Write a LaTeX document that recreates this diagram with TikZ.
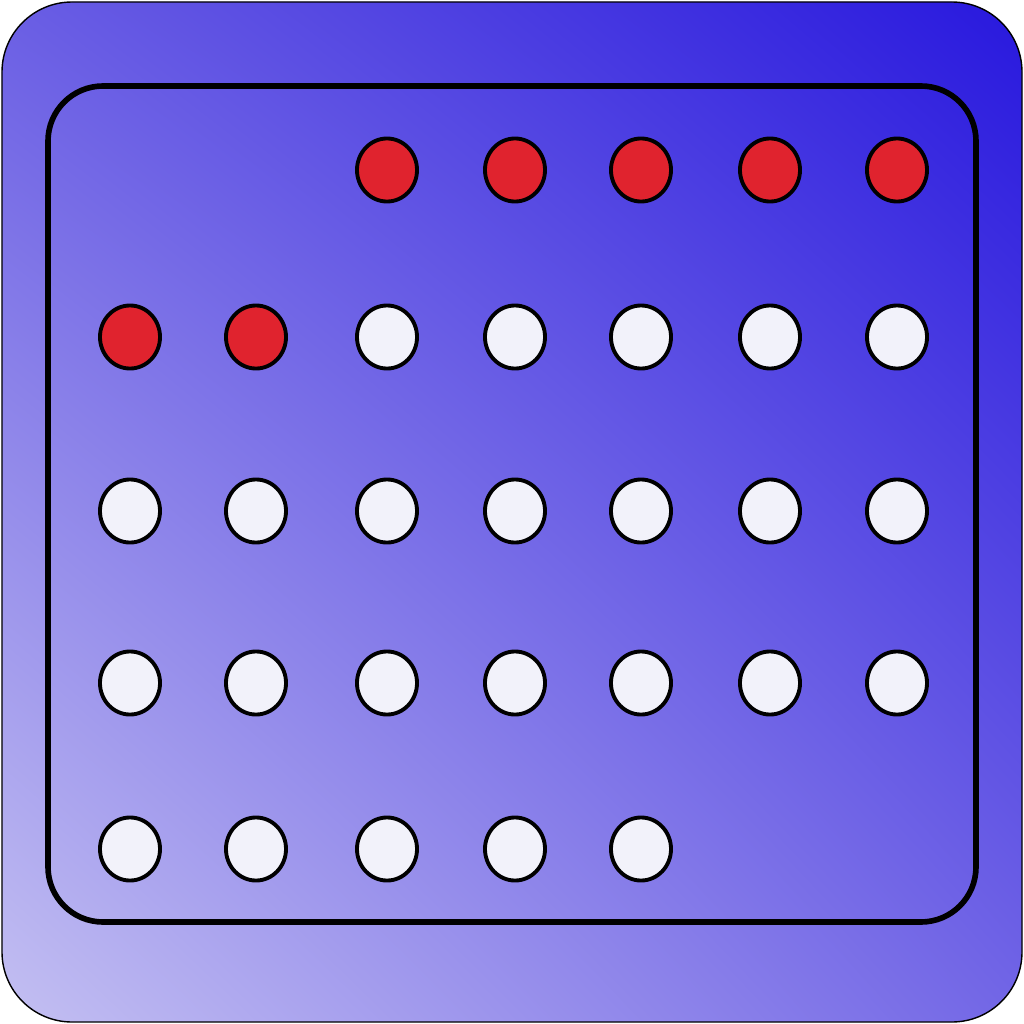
\documentclass[tikz,border=0pt]{standalone}
\usepackage{xcolor}
\usepackage{tikz}
\usetikzlibrary{shadings, shapes.geometric}
\definecolor{IconDeep}{HTML}{2818DE}
\definecolor{IconPale}{HTML}{C4C0F2}
\definecolor{IconMidA}{HTML}{6A5EE4}
\definecolor{IconMidB}{HTML}{7266E6}
\definecolor{DayRed}{HTML}{E0232E}
\definecolor{DayWhite}{HTML}{F2F2FA}

\begin{document}
\begin{tikzpicture}[
  x=0.01cm, y=-0.01cm,
  frame/.style={draw=black, line width=0.4pt, rounded corners=0.7cm},
  panel/.style={draw=black, line width=1.6pt, rounded corners=0.55cm},
  day/.style={ellipse, draw=black, line width=1.1pt, minimum width=0.6cm, minimum height=0.63cm, inner sep=0pt},
  dayfree/.style={day, fill=DayWhite},
  daytaken/.style={day, fill=DayRed}
]
\useasboundingbox (0,0) rectangle (1024,1024);
\shade[frame, lower left=IconPale, upper right=IconDeep, upper left=IconMidA, lower right=IconMidB]
  (2,2) rectangle (1022,1022);
\draw[panel] (48,86) rectangle (976,922);
% grid of days
\foreach \r/\y in {1/170, 2/337, 3/511, 4/683, 5/849}{
  \foreach \c/\x in {1/130, 2/256, 3/387, 4/515, 5/641, 6/770, 7/897}{
    \pgfmathtruncatemacro{\idx}{(\r-1)*7+\c}
    \ifnum\idx>2 \ifnum\idx<10
      \node[daytaken] (d\r-\c) at (\x,\y) {};
    \fi\fi
    \ifnum\idx>9 \ifnum\idx<34
      \node[dayfree] (d\r-\c) at (\x,\y) {};
    \fi\fi
  }
}
\end{tikzpicture}
\end{document}
